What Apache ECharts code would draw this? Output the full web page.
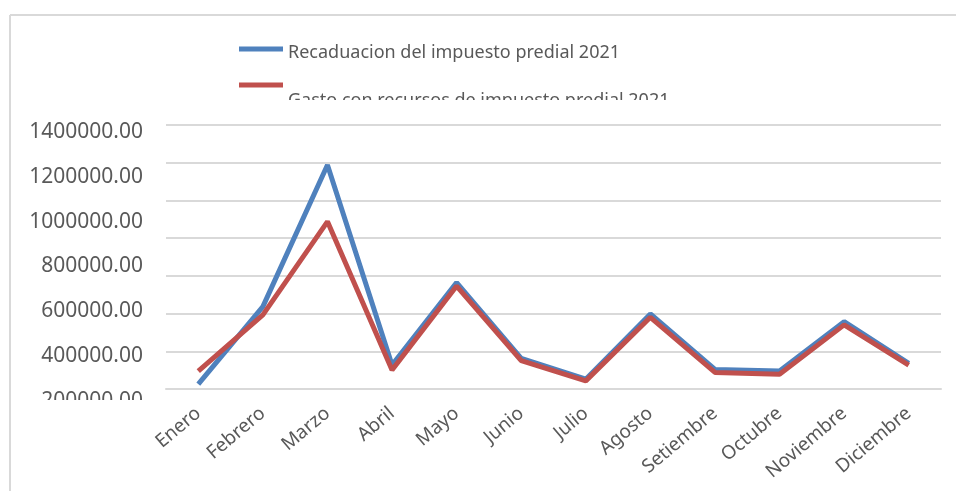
<!DOCTYPE html>
<html>
<head>
<meta charset="utf-8">
<script src="https://cdn.jsdelivr.net/npm/echarts@6/dist/echarts.min.js"></script>
<style>
  html, body { margin: 0; padding: 0; background: #fff; }
  #chart { width: 956px; height: 491px; }
</style>
</head>
<body>
<div id="chart"></div>
<script>
// datos
const months = ["Enero", "Febrero", "Marzo", "Abril", "Mayo", "Junio", "Julio", "Agosto", "Setiembre", "Octubre", "Noviembre", "Diciembre"];
const recaudacion = [26000, 437000, 1188000, 127000, 564000, 163000, 52000, 398000, 104000, 95000, 357000, 136000];
const gasto = [95000, 393000, 888000, 101000, 546000, 150000, 43000, 380000, 88000, 78000, 340000, 127000];
const nameRec = "Recaduacion del impuesto predial 2021";
const nameGas = "Gasto con recursos de impuesto predial 2021";

const font = "Noto Sans";
const textColor = "#595959";

const chart = echarts.init(document.getElementById("chart"));

chart.setOption({
  animation: false,
  backgroundColor: "#fff",
  legend: [
    {
      data: [nameRec],
      left: 234,
      top: 31,
      icon: "rect",
      itemWidth: 44,
      itemHeight: 5,
      formatter: name => "\n" + name, // texto un poco mas abajo que la linea
      textStyle: { fontFamily: font, fontSize: 18, lineHeight: 8, color: textColor }
    },
    {
      data: [nameGas],
      left: 234,
      top: 48,
      icon: "rect",
      itemWidth: 44,
      itemHeight: 5,
      formatter: name => "\n" + name,
      textStyle: { fontFamily: font, fontSize: 18, lineHeight: 32, color: textColor }
    }
  ],
  grid: [
    { left: 166, top: 125, width: 775, height: 264 },
    // solo para las etiquetas del eje y (espaciado distinto al de las lineas)
    { left: 166, top: 132, width: 775, height: 313.6 }
  ],
  xAxis: [
    {
      type: "category",
      gridIndex: 0,
      data: months,
      boundaryGap: true,
      axisLine: { show: true, lineStyle: { color: "#d9d9d9", width: 2 } },
      axisTick: { show: false },
      axisLabel: {
        rotate: 40,
        margin: 22,
        interval: 0,
        fontFamily: font,
        fontSize: 19,
        color: textColor
      }
    },
    { type: "category", gridIndex: 1, data: months, show: false }
  ],
  yAxis: [
    {
      type: "value",
      gridIndex: 0,
      min: 0,
      max: 1400000,
      interval: 200000,
      axisLabel: { show: false },
      axisLine: { show: false },
      axisTick: { show: false },
      splitLine: { lineStyle: { color: "#d9d9d9", width: 2 } }
    },
    {
      type: "value",
      gridIndex: 1,
      min: 0,
      max: 1400000,
      interval: 200000,
      axisLine: { show: false },
      axisTick: { show: false },
      splitLine: { show: false },
      axisLabel: {
        margin: 23,
        fontFamily: font,
        fontSize: 21,
        color: textColor,
        formatter: v => (v === 0 ? "" : v.toFixed(2))
      }
    }
  ],
  series: [
    {
      name: nameRec,
      type: "line",
      xAxisIndex: 0,
      yAxisIndex: 0,
      data: recaudacion,
      symbol: "none",
      color: "#4F81BD",
      lineStyle: { width: 5, color: "#4F81BD" }
    },
    {
      name: nameGas,
      type: "line",
      xAxisIndex: 0,
      yAxisIndex: 0,
      data: gasto,
      symbol: "none",
      color: "#C0504D",
      lineStyle: { width: 5, color: "#C0504D" }
    }
  ],
  graphic: [
    // recortes blancos como en la imagen original
    { type: "rect", z: 100, shape: { x: 15, y: 400, width: 137, height: 25 }, style: { fill: "#fff" } },
    { type: "rect", z: 100, shape: { x: 280, y: 100, width: 420, height: 20 }, style: { fill: "#fff" } },
    // borde del area del grafico
    { type: "line", z: 101, shape: { x1: 10, y1: 15, x2: 956, y2: 15 }, style: { stroke: "#d9d9d9", lineWidth: 2 } },
    { type: "line", z: 101, shape: { x1: 10, y1: 15, x2: 10, y2: 491 }, style: { stroke: "#d9d9d9", lineWidth: 2 } }
  ]
});
</script>
</body>
</html>
